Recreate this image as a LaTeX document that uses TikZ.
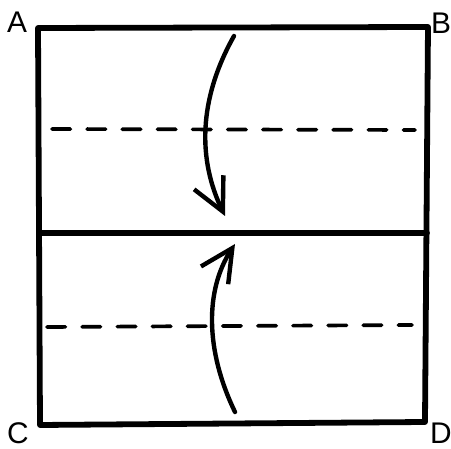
\documentclass[tikz,border=0pt]{standalone}
\usepackage{fontspec}
\setmainfont{Liberation Sans}
\usetikzlibrary{arrows.meta, positioning}

\begin{document}
\begin{tikzpicture}[x=0.02cm, y=-0.02cm,
          edge/.style={line width=3.3pt, line cap=round, line join=round},
          fold/.style={line width=2.1pt, dash pattern=on 10.5pt off 9.5pt, line cap=round},
          arr/.style={line width=2.5pt, line cap=round,
                      -{Straight Barb[length=6.5mm, width=6.5mm, line width=2.5pt]}},
          corner/.style={font=\fontsize{17}{17}\selectfont, inner sep=0pt}
        ]
          \useasboundingbox (0,0) rectangle (451,449);
          % corners of the sheet
          \coordinate (pA) at (38,28);
          \coordinate (pB) at (428,27);
          \coordinate (pC) at (40,425);
          \coordinate (pD) at (425,422);
          \coordinate (mL) at (39,233);
          \coordinate (mR) at (427,233);
          \node[corner] (A) at (17,22) {A};
          \node[corner] (B) at (441,23) {B};
          \node[corner] (C) at (18,433) {C};
          \node[corner] (D) at (441,433) {D};
          \draw[edge] (pA) -- (pB) -- (pD) -- (pC) -- cycle;
          \draw[edge] (mL) -- (mR);
          % fold lines
          \coordinate (f1) at (52,129);
          \coordinate (f2) at (415,130);
          \coordinate (f3) at (47,327);
          \coordinate (f4) at (412,325);
          \draw[fold] (f1) -- (f2);
          \draw[fold] (f3) -- (f4);
          % arrows
          \coordinate (t1) at (234,36);
          \coordinate (t2) at (225,216);
          \coordinate (b1) at (235,412);
          \coordinate (b2) at (235,244);
          \draw[arr] (t1) .. controls (198,100) and (198,160) .. (t2);
          \draw[arr] (b1) .. controls (205,350) and (205,290) .. (b2);
        \end{tikzpicture}
\end{document}
